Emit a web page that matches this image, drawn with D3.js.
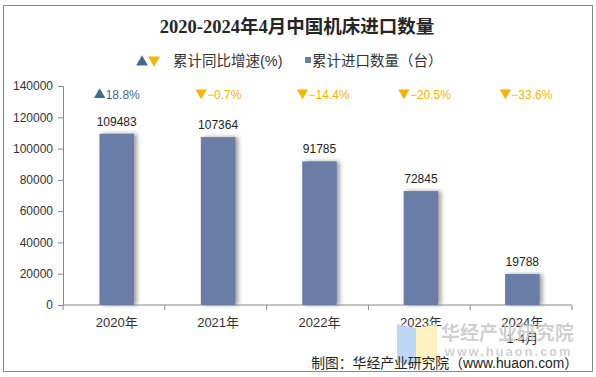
<!DOCTYPE html>
<html>
<head>
<meta charset="utf-8">
<script src="https://cdn.jsdelivr.net/npm/d3@7"></script>
<style>
  body { margin: 0; background: #fff; }
  text { font-family: "Liberation Sans", Arial, "Noto Sans CJK SC", sans-serif; }
</style>
</head>
<body>
<div id="chart"></div>
<script>
// data
const years = ["2020年", "2021年", "2022年", "2023年", "2024年|1-4月"];
const imports = [109483, 107364, 91785, 72845, 19788];
const growth = [18.8, -0.7, -14.4, -20.5, -33.6];
const yTicks = [0, 20000, 40000, 60000, 80000, 100000, 120000, 140000];

const width = 596, height = 377;
const margin = { left: 63, right: 24, top: 86, bottom: 72 };

const barColor = '#6a7da6';
const upColor = '#3f6c8c';
const downColor = '#f5b500';

const svg = d3.select('#chart').append('svg')
    .attr('width', width)
    .attr('height', height);

// drop shadow for the bars
const defs = svg.append('defs');
const shadow = defs.append('filter').attr('id', 'shadow')
    .attr('x', '-20%').attr('y', '-5%').attr('width', '160%').attr('height', '110%');
shadow.append('feDropShadow')
    .attr('dx', 3).attr('dy', 0).attr('stdDeviation', 2)
    .attr('flood-color', '#777').attr('flood-opacity', 0.7);

// outer frame
svg.append('rect')
    .attr('x', 3.5).attr('y', 5.5)
    .attr('width', 589).attr('height', 366)
    .attr('fill', 'none').attr('stroke', '#8a8a8a');

// title
svg.append('text')
    .attr('x', 297).attr('y', 33)
    .attr('text-anchor', 'middle')
    .style('font-family', '"Liberation Serif", "Times New Roman", "Noto Sans CJK SC", serif')
    .attr('font-size', 18.5)
    .attr('font-weight', 'bold')
    .attr('fill', '#262626')
    .text('2020-2024年4月中国机床进口数量');

// legend
const legend = svg.append('g').attr('font-size', 14.5).attr('fill', '#333');
legend.append('path')
    .attr('d', d3.symbol(d3.symbolTriangle, 60)())
    .attr('transform', 'translate(142,62)')
    .attr('fill', upColor);
legend.append('path')
    .attr('d', d3.symbol(d3.symbolTriangle, 60)())
    .attr('transform', 'translate(154,60) rotate(180)')
    .attr('fill', downColor);
legend.append('text')
    .attr('x', 173).attr('y', 66)
    .text('累计同比增速(%)');
legend.append('rect')
    .attr('x', 305).attr('y', 57).attr('width', 6).attr('height', 6)
    .attr('fill', barColor);
legend.append('text')
    .attr('x', 312).attr('y', 66)
    .text('累计进口数量（台）');

// scales
const axisEnd = 572;
const x = d3.scaleBand()
    .domain(years)
    .range([margin.left + 3, axisEnd + 1])
    .paddingInner(0.66)
    .paddingOuter(0.33);

// category slots for the boundary ticks
const slot = d3.scaleBand()
    .domain(years)
    .range([margin.left, axisEnd]);

const y = d3.scaleLinear()
    .domain([0, 140000])
    .range([height - margin.bottom, margin.top]);

// y axis
const yAxis = svg.append('g')
    .attr('transform', `translate(${margin.left},0)`)
    .call(d3.axisLeft(y).tickValues(yTicks).tickSize(5).tickPadding(5).tickFormat(d3.format('d')));
yAxis.select('.domain').attr('stroke', '#888');
yAxis.selectAll('.tick line').attr('stroke', '#888');
yAxis.selectAll('.tick text')
    .attr('font-size', 12).attr('fill', '#333')
    .style('font-family', '"Liberation Sans", Arial, sans-serif');

// x axis with ticks on category boundaries
const xAxis = svg.append('g')
    .attr('transform', `translate(0,${y(0)})`);
xAxis.append('line')
    .attr('x1', margin.left).attr('x2', axisEnd)
    .attr('stroke', '#888');
xAxis.selectAll('line.bound')
    .data(years.map(d => slot(d)).concat([axisEnd]))
    .join('line')
    .attr('class', 'bound')
    .attr('x1', d => d).attr('x2', d => d)
    .attr('y1', 0).attr('y2', 5)
    .attr('stroke', '#888');
xAxis.selectAll('text.cat')
    .data(years)
    .join('text')
    .attr('class', 'cat')
    .attr('text-anchor', 'middle')
    .attr('font-size', 13)
    .attr('fill', '#333')
    .attr('transform', d => `translate(${x(d) + x.bandwidth() / 2},0)`)
    .each(function (d) {
        const lines = d.split('|');
        lines.forEach((t, i) => {
            d3.select(this).append('tspan')
                .attr('x', 0).attr('y', 22 + i * 16)
                .text(t);
        });
    });

// bars
svg.append('g')
    .selectAll('rect')
    .data(imports)
    .join('rect')
    .attr('x', (d, i) => x(years[i]))
    .attr('y', d => y(d))
    .attr('width', x.bandwidth())
    .attr('height', d => y(0) - y(d))
    .attr('fill', barColor)
    .attr('filter', 'url(#shadow)');

// value labels
svg.append('g')
    .selectAll('text')
    .data(imports)
    .join('text')
    .attr('x', (d, i) => x(years[i]) + x.bandwidth() / 2)
    .attr('y', d => y(d) - 8)
    .attr('text-anchor', 'middle')
    .attr('font-size', 12)
    .attr('fill', '#222')
    .text(d => d);

// growth labels along the top
const gl = svg.append('g')
    .selectAll('g')
    .data(growth)
    .join('g')
    .attr('transform', (d, i) => `translate(${x(years[i]) + x.bandwidth() / 2},${y(135000)})`);
gl.append('path')
    .attr('d', d3.symbol(d3.symbolTriangle, 55)())
    .attr('transform', d => d >= 0 ? 'translate(-17,1)' : 'translate(-17,-1) rotate(180)')
    .attr('fill', d => d >= 0 ? upColor : downColor);
gl.append('text')
    .attr('x', -11).attr('y', 5)
    .attr('font-size', 12)
    .attr('fill', d => d >= 0 ? upColor : downColor)
    .text(d => d3.format('.1f')(d) + '%');

// watermark
const wm = svg.append('g');
wm.append('path')
    .attr('d', 'M397,324 L416,328 L416,366 L397,362 Z')
    .attr('fill', '#b7d3f3').attr('opacity', 0.9);
wm.append('path')
    .attr('d', 'M416,328 L437,324 L437,362 L416,366 Z')
    .attr('fill', '#fdf0b8').attr('opacity', 0.9);
wm.append('text')
    .attr('x', 441).attr('y', 340)
    .attr('font-size', 19).attr('font-weight', 'bold')
    .attr('fill', '#c8c8c8').attr('opacity', 0.85)
    .text('华经产业研究院');
wm.append('text')
    .attr('x', 445).attr('y', 356)
    .attr('font-size', 12.5).attr('font-weight', 'bold')
    .attr('letter-spacing', 2.2)
    .attr('fill', '#c8c8c8').attr('opacity', 0.85)
    .text('www.huaon.com');

// source
svg.append('text')
    .attr('x', 578).attr('y', 368)
    .attr('text-anchor', 'end')
    .attr('font-size', 13.8)
    .attr('fill', '#222')
    .text('制图：华经产业研究院（www.huaon.com）');
</script>
</body>
</html>
